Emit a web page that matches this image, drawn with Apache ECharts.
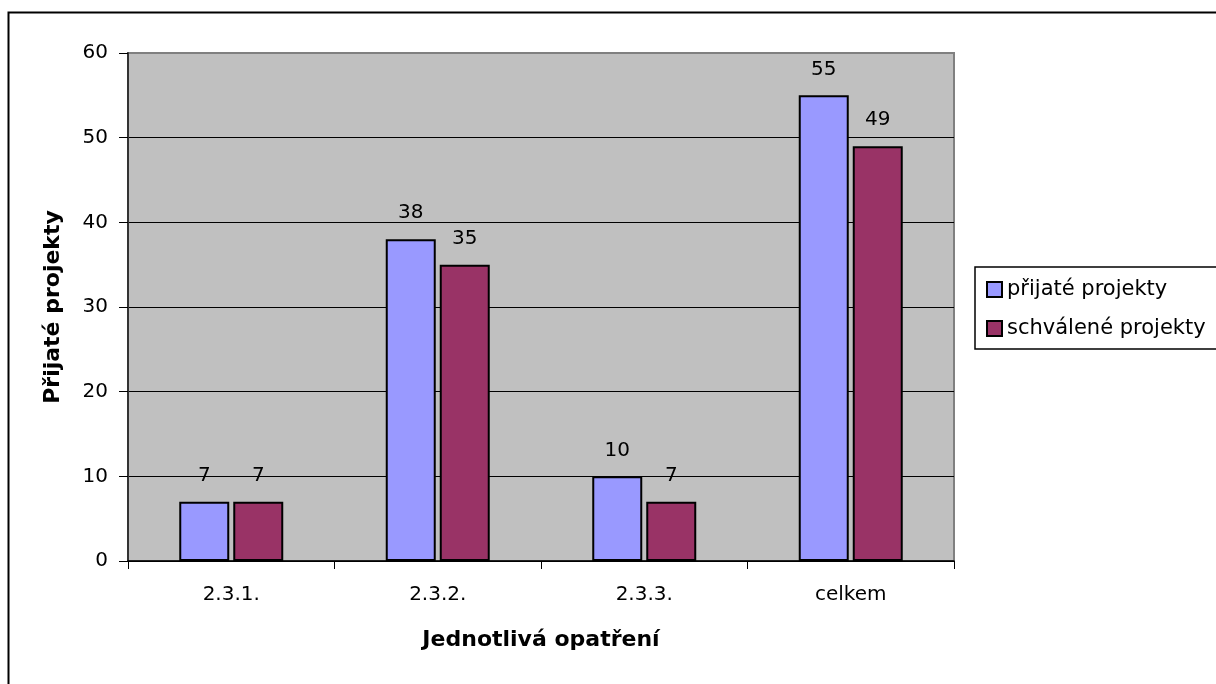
<!DOCTYPE html>
<html>
<head>
<meta charset="utf-8">
<script src="https://cdn.jsdelivr.net/npm/echarts@6/dist/echarts.min.js"></script>
<style>html,body{margin:0;padding:0;background:#fff;}#chart{width:1216px;height:684px;}</style>
</head>
<body>
<div id="chart"></div>
<script>
const categories = ['2.3.1.', '2.3.2.', '2.3.3.', 'celkem'];
const seriesNames = ['přijaté projekty', 'schválené projekty'];
const prijate = [7, 38, 10, 55];
const schvalene = [7, 35, 7, 49];
const yTicks = [0, 10, 20, 30, 40, 50, 60];

const FONT = 'DejaVu Sans';
const chart = echarts.init(document.getElementById('chart'), null, {renderer: 'canvas'});
const labelStyle = {show: true, position: 'top', distance: 16, color: '#000', fontSize: 20, fontFamily: FONT};
chart.setOption({
  backgroundColor: '#fff',
  animation: false,
  graphic: [{
    type: 'rect', left: 6, top: 10, shape: {x: 0, y: 0, width: 1400, height: 900},
    style: {fill: 'none', stroke: '#000', lineWidth: 2}, silent: true, z: 100
  }],
  grid: {
    left: 128, top: 53, right: 262, bottom: 123,
    show: true, backgroundColor: '#C0C0C0', borderColor: '#808080', borderWidth: 2
  },
  legend: {
    orient: 'vertical', left: 975, top: 267,
    padding: [12, 40, 10, 11], itemGap: 18,
    itemWidth: 15, itemHeight: 15,
    borderColor: '#000', borderWidth: 1.5,
    textStyle: {fontSize: 21, fontFamily: FONT, color: '#000'},
    data: seriesNames.map(n => ({name: n, icon: 'rect'}))
  },
  xAxis: {
    type: 'category', data: categories,
    axisLine: {lineStyle: {color: '#000', width: 1.5}},
    axisTick: {show: true, length: 8, lineStyle: {color: '#000'}},
    axisLabel: {margin: 24, color: '#000', fontSize: 20, fontFamily: FONT},
    name: 'Jednotlivá opatření', nameLocation: 'middle', nameGap: 68,
    nameTextStyle: {fontSize: 22, fontWeight: 'bold', fontFamily: FONT, color: '#000'}
  },
  yAxis: {
    type: 'value', min: yTicks[0], max: yTicks[yTicks.length - 1], interval: 10,
    axisLine: {show: true, lineStyle: {color: '#333', width: 2}},
    axisTick: {show: true, length: 9, lineStyle: {color: '#000'}},
    axisLabel: {margin: 20, color: '#000', fontSize: 20, fontFamily: FONT},
    splitLine: {show: true, showMaxLine: false, lineStyle: {color: '#000', width: 1}},
    name: 'Přijaté projekty', nameLocation: 'middle', nameGap: 64,
    nameTextStyle: {fontSize: 22, fontWeight: 'bold', fontFamily: FONT, color: '#000'}
  },
  series: [
    {name: seriesNames[0], type: 'bar', data: prijate, barWidth: 50, barGap: '8%',
     itemStyle: {color: '#9999FF', borderColor: '#000', borderWidth: 2}, label: labelStyle},
    {name: seriesNames[1], type: 'bar', data: schvalene, barWidth: 50,
     itemStyle: {color: '#993366', borderColor: '#000', borderWidth: 2}, label: labelStyle}
  ]
});
</script>
</body>
</html>
